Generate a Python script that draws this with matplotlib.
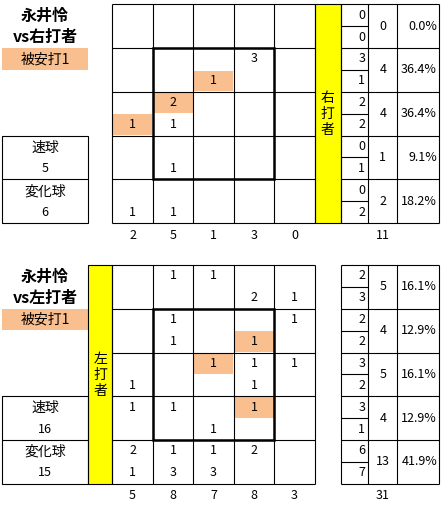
import matplotlib
matplotlib.use("Agg")
import matplotlib.pyplot as plt
from matplotlib.patches import Rectangle

plt.rcParams['font.family'] = ['Noto Sans CJK JP', 'DejaVu Sans']

# ---------------- data ----------------
pitcher = "永井怜"
titles = ["vs右打者", "vs左打者"]
side_labels = ["右打者", "左打者"]
hit_label = "被安打1"
pitch_types = ["速球", "変化球"]

# counts per zone cell (5 rows x 5 cols), upper / lower half
rhb_upper = [[0, 0, 0, 0, 0],
             [0, 0, 0, 3, 0],
             [0, 2, 0, 0, 0],
             [0, 0, 0, 0, 0],
             [0, 0, 0, 0, 0]]
rhb_lower = [[0, 0, 0, 0, 0],
             [0, 0, 1, 0, 0],
             [1, 1, 0, 0, 0],
             [0, 1, 0, 0, 0],
             [1, 1, 0, 0, 0]]
rhb_hits = [(1, 2, 1), (2, 1, 0), (2, 0, 1)]   # (row, col, half: 0 upper / 1 lower)
rhb_pitch_counts = [5, 6]

lhb_upper = [[0, 1, 1, 0, 0],
             [0, 1, 0, 0, 1],
             [0, 0, 1, 1, 1],
             [1, 1, 0, 1, 0],
             [2, 1, 1, 2, 0]]
lhb_lower = [[0, 0, 0, 2, 1],
             [0, 1, 0, 1, 0],
             [1, 0, 0, 1, 0],
             [0, 0, 1, 0, 0],
             [1, 3, 3, 0, 0]]
lhb_hits = [(1, 3, 1), (2, 2, 0), (3, 3, 0)]
lhb_pitch_counts = [16, 15]

# ---------------- drawing ----------------
W, H = 445, 513
fig = plt.figure(figsize=(W / 100, H / 100), dpi=100)
ax = fig.add_axes([0, 0, 1, 1])
ax.set_xlim(0, W)
ax.set_ylim(H, 0)
ax.axis('off')

ORANGE = '#FABF8F'
YELLOW = '#FFFF00'
FS = 9
LW = 0.8

col_x = [112.3, 152.7, 193.3, 233.7, 274.3, 314.7]
tab_x = [340.5, 368.3, 397.3, 439.0]


def line(x0, y0, x1, y1, lw=LW):
    ax.plot([x0, x1], [y0, y1], color='black', lw=lw, solid_capstyle='butt', zorder=3)


def txt(x, y, s, ha='center', fs=FS, weight='normal'):
    ax.text(x, y, s, ha=ha, va='center', fontsize=fs, fontweight=weight, zorder=4)


def draw_block(top, upper, lower, hits, pitch_counts, title, side, side_left):
    rh = 43.75
    row_y = [top + i * rh for i in range(6)]
    bottom = row_y[-1]
    # hits highlight
    for r, c, half in hits:
        y0 = row_y[r] + half * rh / 2
        ax.add_patch(Rectangle((col_x[c] + 0.8, y0 + 0.6), col_x[c + 1] - col_x[c] - 1.6,
                               rh / 2 - 1.2, color=ORANGE, lw=0, zorder=1))
    # grid
    for x in col_x:
        line(x, top, x, bottom)
    for y in row_y:
        line(col_x[0], y, col_x[-1], y)
    # strike zone
    ax.add_patch(Rectangle((col_x[1], row_y[1]), col_x[4] - col_x[1], row_y[4] - row_y[1],
                           fill=False, ec='black', lw=1.8, zorder=3))
    # cell numbers
    for r in range(5):
        for c in range(5):
            xc = (col_x[c] + col_x[c + 1]) / 2
            if upper[r][c]:
                txt(xc, row_y[r] + rh * 0.25, str(upper[r][c]))
            if lower[r][c]:
                txt(xc, row_y[r] + rh * 0.75, str(lower[r][c]))
    # column totals
    for c in range(5):
        xc = (col_x[c] + col_x[c + 1]) / 2
        tot = sum(upper[r][c] + lower[r][c] for r in range(5))
        txt(xc, bottom + 12, str(tot))
    # yellow side bar
    if side_left:
        bx0, bx1 = 88.3, col_x[0]
    else:
        bx0, bx1 = col_x[-1], tab_x[0]
    ax.add_patch(Rectangle((bx0, top), bx1 - bx0, bottom - top, fc=YELLOW, ec='black',
                           lw=LW, zorder=2))
    bxc = (bx0 + bx1) / 2
    for i, ch in enumerate(side):
        txt(bxc, top + 93.5 + i * 16, ch, fs=10)
    # right table
    grand = sum(sum(row) for row in upper) + sum(sum(row) for row in lower)
    for x in tab_x:
        line(x, top, x, bottom)
    for y in row_y:
        line(tab_x[0], y, tab_x[-1], y)
    for r in range(5):
        line(tab_x[0], row_y[r] + rh / 2, tab_x[1], row_y[r] + rh / 2)
        u = sum(upper[r])
        lo = sum(lower[r])
        txt(tab_x[1] - 3, row_y[r] + rh * 0.25, str(u), ha='right')
        txt(tab_x[1] - 3, row_y[r] + rh * 0.75, str(lo), ha='right')
        txt((tab_x[1] + tab_x[2]) / 2, row_y[r] + rh / 2, str(u + lo))
        txt(tab_x[3] - 2, row_y[r] + rh / 2, f"{100 * (u + lo) / grand:.1f}%", ha='right')
    txt((tab_x[1] + tab_x[2]) / 2, bottom + 12, str(grand))
    # title
    txt(45, top + 12, pitcher, fs=11.5, weight='bold')
    txt(45, top + 33, title, fs=11.5, weight='bold')
    # hits label
    ax.add_patch(Rectangle((2.3, row_y[1]), 86, 21.5, color=ORANGE, lw=0, zorder=1))
    txt(45, row_y[1] + 11, hit_label, fs=10)
    # pitch type boxes
    bx_r = 88.3
    ax.add_patch(Rectangle((2.3, row_y[3]), bx_r - 2.3, bottom - row_y[3], fill=False,
                           ec='black', lw=LW, zorder=3))
    line(2.3, row_y[4], bx_r, row_y[4])
    for i, (name, cnt) in enumerate(zip(pitch_types, pitch_counts)):
        y0 = row_y[3 + i]
        txt(45, y0 + rh * 0.27, name, fs=10)
        txt(45, y0 + rh * 0.75, str(cnt), fs=FS)


draw_block(4.3, rhb_upper, rhb_lower, rhb_hits, rhb_pitch_counts, titles[0], side_labels[0], False)
draw_block(265.0, lhb_upper, lhb_lower, lhb_hits, lhb_pitch_counts, titles[1], side_labels[1], True)

fig.savefig("out.png", dpi=100)
